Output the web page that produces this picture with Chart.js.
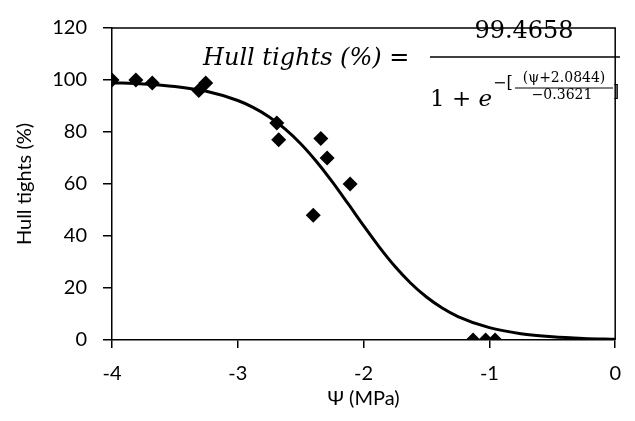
<!DOCTYPE html>
<html>
<head>
<meta charset="utf-8">
<script src="https://cdn.jsdelivr.net/npm/chart.js@4.4.1/dist/chart.umd.min.js"></script>
<style>
html,body{margin:0;padding:0;background:#fff;}
#wrap{width:635px;height:421px;}
</style>
</head>
<body>
<div id="wrap"><canvas id="c" width="635" height="421"></canvas></div>
<script>
// Observed data (Ψ in MPa, hull tights in %)
const psiObs  = [-4.00, -3.81, -3.68, -3.31, -3.255, -2.69, -2.675, -2.34, -2.29, -2.40, -2.107, -1.13, -1.03, -0.955];
const hullObs = [100.0, 100.0, 98.8,  96.0,  98.8,   83.5,  77.0,   77.5,  70.0,  48.0,  60.0,   0.0,   0.0,   0.0];

// Fitted curve
const psiFit  = [-4.0, -3.75, -3.5, -3.25, -3.0, -2.875, -2.75, -2.625, -2.5, -2.375, -2.25, -2.125, -2.0, -1.875, -1.75, -1.625, -1.5, -1.375, -1.25, -1.0, -0.75, -0.5, -0.25, 0.0];
const hullFit = [98.97, 98.48, 97.51, 95.64, 92.11, 89.39, 85.81, 81.22, 75.51, 68.67, 60.91, 52.52, 43.96, 35.74, 28.27, 21.83, 16.52, 12.29, 9.03, 4.74, 2.43, 1.24, 0.62, 0.31];

// Tick labels
const xTickLabels = ['-4', '-3', '-2', '-1', '0'];
const xTickValues = [-4, -3, -2, -1, 0];
const yTickLabels = ['0', '20', '40', '60', '80', '100', '120'];
const yTickValues = [0, 20, 40, 60, 80, 100, 120];

// Texts
const xTitle = 'Ψ (MPa)';
const yTitle = 'Hull tights (%)';
const eqLeft = 'Hull tights (%) =';
const eqNum = '99.4658';
const eqDenBase = '1 + ',  eqE = 'e', eqExpPre = '−[', eqExpNum = '(ψ+2.0844)', eqExpDen = '−0.3621', eqExpPost = ']';

const FONT = 'Lato, "Open Sans", sans-serif';
const MATH = '"DejaVu Serif", "Liberation Serif", serif';

const frame = {
  id: 'frame',
  afterDraw(chart) {
    const {ctx, chartArea: a} = chart;
    ctx.save();
    ctx.strokeStyle = '#000';
    ctx.lineWidth = 1.5;
    ctx.beginPath();
    ctx.moveTo(a.left, a.top); ctx.lineTo(a.right, a.top); ctx.lineTo(a.right, a.bottom);
    ctx.stroke();
    // Equation
    ctx.fillStyle = '#000';
    ctx.textBaseline = 'alphabetic';
    ctx.textAlign = 'left';
    ctx.font = 'italic 24px ' + MATH;
    ctx.fillText(eqLeft, 203, 65);
    ctx.textAlign = 'center';
    ctx.font = '24px ' + MATH;
    ctx.fillText(eqNum, 524, 38);
    ctx.lineWidth = 1.5;
    ctx.beginPath(); ctx.moveTo(430, 57); ctx.lineTo(620, 57); ctx.stroke();
    ctx.textAlign = 'left';
    ctx.font = '23px ' + MATH;
    ctx.fillText(eqDenBase, 430, 106);
    const wb = ctx.measureText(eqDenBase).width;
    ctx.font = 'italic 23px ' + MATH;
    ctx.fillText(eqE, 430 + wb, 106);
    ctx.font = '16px ' + MATH;
    ctx.fillText(eqExpPre, 493, 88);
    ctx.font = '14px ' + MATH;
    ctx.textAlign = 'center';
    ctx.fillText(eqExpNum, 564, 82);
    ctx.lineWidth = 1;
    ctx.beginPath(); ctx.moveTo(515, 88); ctx.lineTo(613, 88); ctx.stroke();
    ctx.fillText(eqExpDen, 562, 99);
    ctx.textAlign = 'left';
    ctx.font = '16px ' + MATH;
    ctx.fillText(eqExpPost, 613, 97);
    ctx.restore();
  }
};

new Chart(document.getElementById('c'), {
  type: 'scatter',
  data: {
    datasets: [
      {
        label: 'fit',
        type: 'line',
        data: psiFit.map((x, i) => ({x, y: hullFit[i]})),
        borderColor: '#000',
        borderWidth: 3,
        pointRadius: 0,
        cubicInterpolationMode: 'monotone',
        fill: false,
        order: 2
      },
      {
        label: 'obs',
        data: psiObs.map((x, i) => ({x, y: hullObs[i]})),
        pointStyle: 'rectRot',
        pointRadius: 7.5,
        backgroundColor: '#000',
        borderColor: '#000',
        borderWidth: 0,
        order: 1
      }
    ]
  },
  options: {
    responsive: false,
    animation: false,
    devicePixelRatio: 1,
    layout: {padding: {left: 0, right: 6, top: 17, bottom: 0}},
    plugins: {legend: {display: false}, tooltip: {enabled: false}},
    scales: {
      x: {
        type: 'linear',
        min: -4, max: 0,
        afterBuildTicks: s => { s.ticks = xTickValues.map(v => ({value: v})); },
        afterFit: s => { s.height = 81; },
        grid: {drawOnChartArea: false, tickLength: 8, color: '#000', lineWidth: 1.5},
        border: {display: true, color: '#000', width: 1.5},
        ticks: {
          callback: v => xTickLabels[xTickValues.indexOf(v)],
          color: '#000', font: {family: FONT, size: 20}, padding: 14, maxRotation: 0
        },
        title: {display: true, text: xTitle, color: '#000', font: {family: FONT, size: 20}, padding: {top: 0, bottom: 10}}
      },
      y: {
        min: 0, max: 120,
        afterBuildTicks: s => { s.ticks = yTickValues.map(v => ({value: v})); },
        afterFit: s => { s.width = 112; },
        grid: {drawOnChartArea: false, tickLength: 9, color: '#000', lineWidth: 1.5},
        border: {display: true, color: '#000', width: 1.5},
        ticks: {
          callback: v => yTickLabels[yTickValues.indexOf(v)],
          color: '#000', font: {family: FONT, size: 20}, padding: 16
        },
        title: {display: true, text: yTitle, color: '#000', font: {family: FONT, size: 20}, padding: {top: 13, bottom: 0}}
      }
    }
  },
  plugins: [frame]
});
</script>
</body>
</html>
